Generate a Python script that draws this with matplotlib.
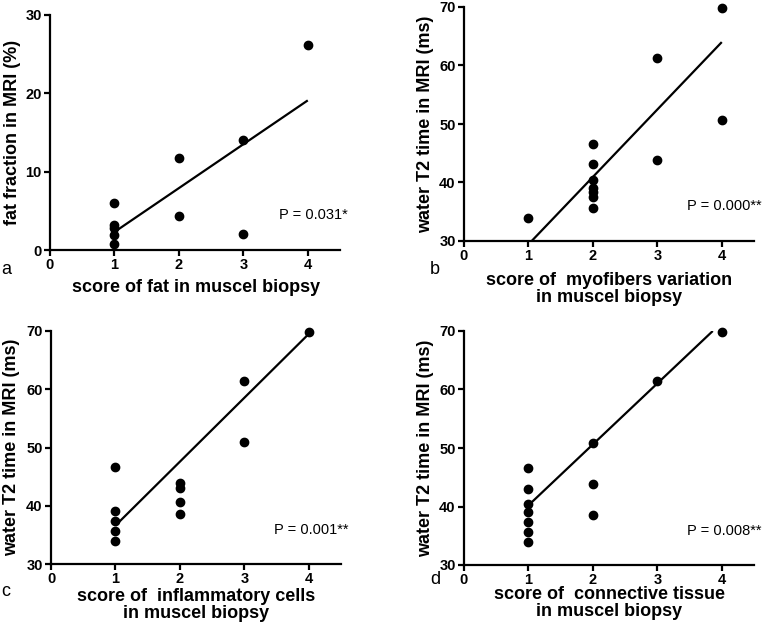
import matplotlib.pyplot as plt

plt.rcParams["font.family"] = ["Liberation Sans", "DejaVu Sans"]
plt.rcParams["font.weight"] = "bold"

# panel a: fat fraction
a_x = [1, 1, 1, 1, 1, 2, 2, 3, 3, 4]
a_y = [6.0, 3.2, 2.8, 1.9, 0.8, 11.8, 4.3, 14.0, 2.1, 26.2]
a_fit_x = [1.0, 4.0]
a_fit_y = [2.3, 19.1]

# panel b: myofibers variation
b_x = [1, 2, 2, 2, 2, 2, 2, 2, 3, 3, 4, 4]
b_y = [34.0, 46.6, 43.1, 40.5, 39.1, 38.4, 37.5, 35.6, 61.3, 43.8, 69.8, 50.7]
b_fit_x = [1.05, 4.0]
b_fit_y = [30.0, 64.0]

# panel c: inflammatory cells
c_x = [1, 1, 1, 1, 1, 2, 2, 2, 2, 3, 3, 4]
c_y = [46.7, 39.1, 37.4, 35.7, 34.0, 43.9, 43.1, 40.6, 38.6, 61.5, 50.9, 69.9]
c_fit_x = [1.0, 4.0]
c_fit_y = [36.6, 69.5]

# panel d: connective tissue
d_x = [1, 1, 1, 1, 1, 1, 1, 2, 2, 2, 3, 4]
d_y = [46.6, 43.0, 40.5, 39.0, 37.4, 35.6, 33.9, 50.8, 43.8, 38.5, 61.4, 69.8]
d_fit_x = [1.0, 3.86]
d_fit_y = [40.2, 70.0]

W, H = 764, 624
fig = plt.figure(figsize=(W / 100, H / 100), dpi=100)


def px_axes(left, top, right, bottom):
    return fig.add_axes([left / W, 1 - bottom / H, (right - left) / W, (bottom - top) / H])


def ftext(x, y, s, **kw):
    fig.text(x / W, 1 - y / H, s, **kw)


def draw_panel(ax, xs, ys, fx, fy, ylim, yticks, ylabel, ptext, py, ylab_x):
    ax.scatter(xs, ys, s=36, color="black", zorder=3, clip_on=False)
    ax.plot(fx, fy, color="black", lw=1.6, solid_capstyle="butt")
    ax.set_xlim(0, 4.5)
    ax.set_ylim(*ylim)
    ax.set_xticks([0, 1, 2, 3, 4])
    ax.set_yticks(yticks)
    for s in ["top", "right"]:
        ax.spines[s].set_visible(False)
    for s in ["left", "bottom"]:
        ax.spines[s].set_linewidth(1.6)
    ax.tick_params(direction="out", length=4, width=1.6, labelsize=10.5, pad=2)
    ax.text(4.62, py, ptext, ha="right", va="center", fontsize=10.5,
            fontweight="normal", clip_on=False)
    pos = ax.get_position()
    ftext(ylab_x, H - (pos.y0 + pos.height / 2) * H, ylabel, rotation=90,
          ha="center", va="center", fontsize=13)


ax_a = px_axes(50, 15, 340, 250)
draw_panel(ax_a, a_x, a_y, a_fit_x, a_fit_y, (0, 30), [0, 10, 20, 30],
           "fat fraction in MRI (%)", "P = 0.031*", 4.5, 13)

ax_b = px_axes(464, 7, 754, 241)
draw_panel(ax_b, b_x, b_y, b_fit_x, b_fit_y, (30, 70), [30, 40, 50, 60, 70],
           "water T2 time in MRI (ms)", "P = 0.000**", 35.9, 426)

ax_c = px_axes(51, 331, 341, 564)
draw_panel(ax_c, c_x, c_y, c_fit_x, c_fit_y, (30, 70), [30, 40, 50, 60, 70],
           "water T2 time in MRI (ms)", "P = 0.001**", 35.8, 12)

ax_d = px_axes(464, 331, 754, 565)
draw_panel(ax_d, d_x, d_y, d_fit_x, d_fit_y, (30, 70), [30, 40, 50, 60, 70],
           "water T2 time in MRI (ms)", "P = 0.008**", 35.8, 426)

# x labels
xl = dict(ha="center", va="center", fontsize=13, linespacing=1.0)
ftext(196, 288, "score of fat in muscel biopsy", **xl)
ftext(609, 289, "score of  myofibers variation\nin muscel biopsy", **xl)
ftext(196, 605, "score of  inflammatory cells\nin muscel biopsy", **xl)
ftext(609, 603, "score of  connective tissue\nin muscel biopsy", **xl)

# panel letters
pl = dict(ha="center", va="center", fontsize=13, fontweight="normal")
ftext(6, 269, "a", **pl)
ftext(435, 269, "b", **pl)
ftext(6, 591, "c", **pl)
ftext(435, 580, "d", **pl)

fig.savefig("out.png", dpi=100)
